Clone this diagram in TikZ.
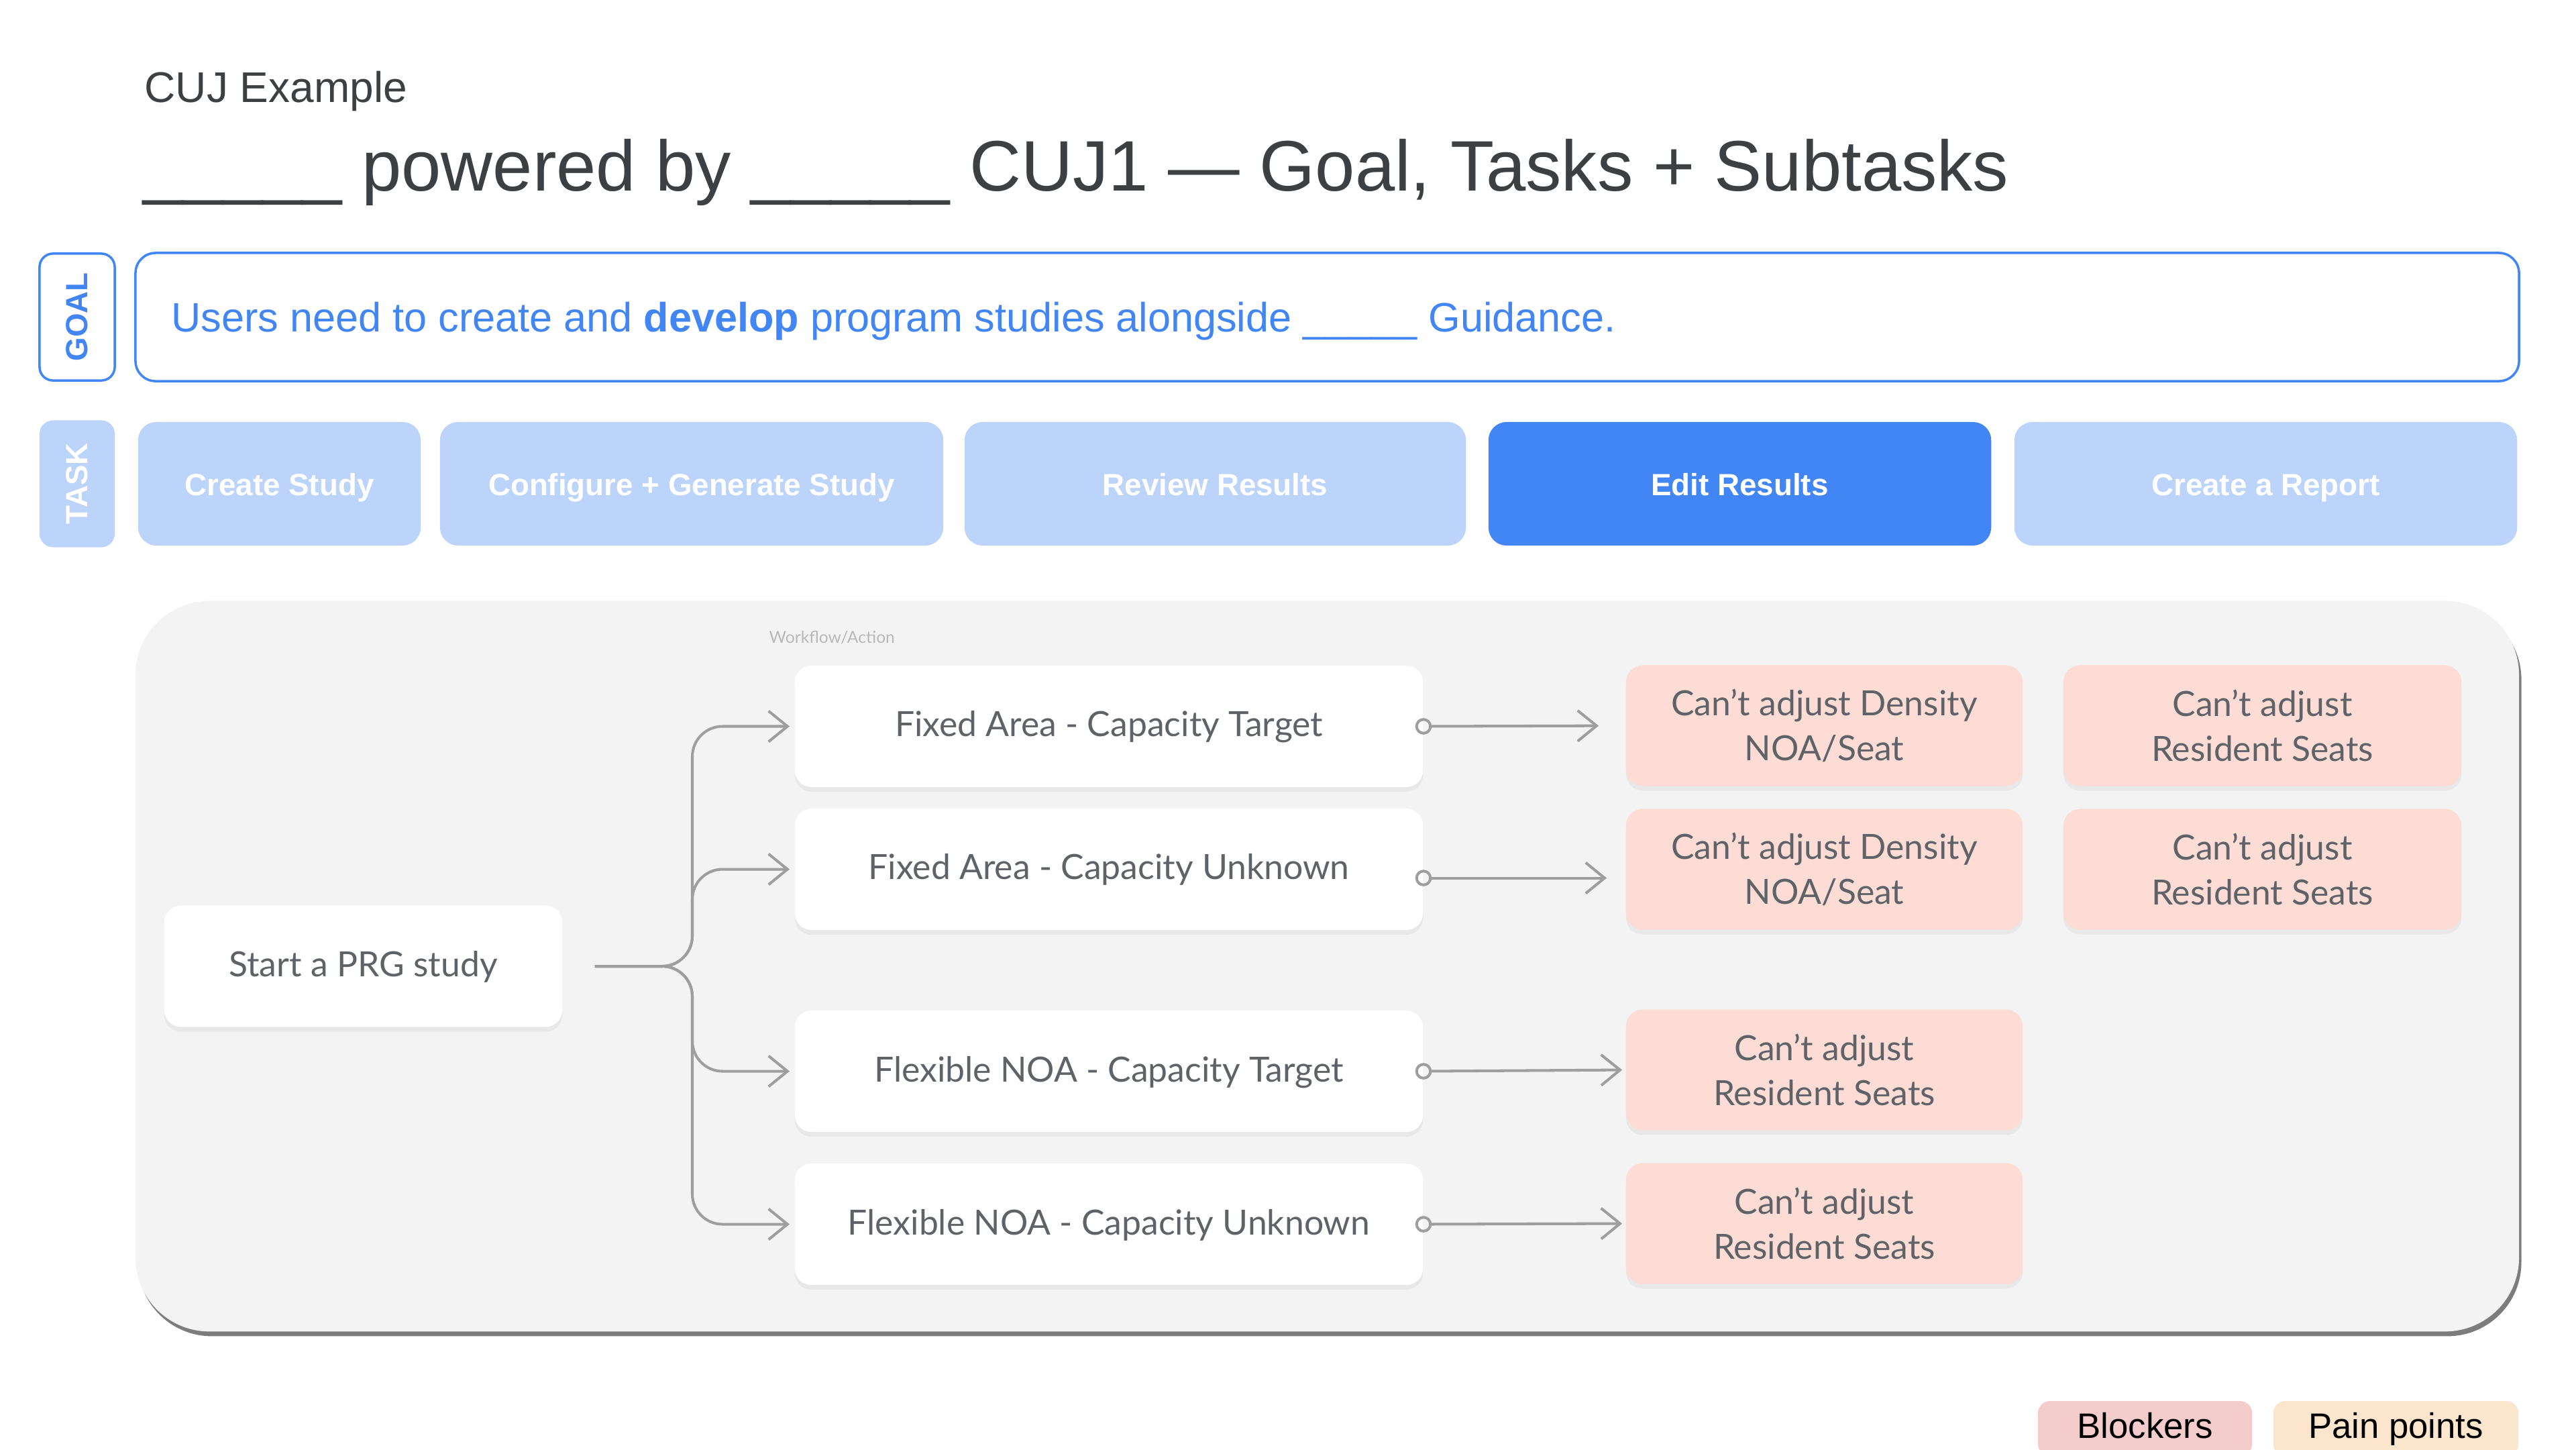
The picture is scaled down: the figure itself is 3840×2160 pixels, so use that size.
\documentclass[tikz,border=0pt]{standalone}
\usepackage{fontspec}
\setmainfont{Liberation Sans}
\newfontfamily\gsans{Lato}
\usetikzlibrary{arrows.meta,shadows}
\definecolor{gblue}{HTML}{4285F4}
\definecolor{lblue}{HTML}{BDD4FA}
\definecolor{panelbg}{HTML}{F3F3F3}
\definecolor{pinkbox}{HTML}{FCDCD5}
\definecolor{conngray}{HTML}{9E9E9E}
\definecolor{txtgray}{HTML}{5F6368}
\definecolor{titlegray}{HTML}{3C4043}
\definecolor{blockc}{HTML}{F4CCCC}
\definecolor{painc}{HTML}{FCE5CD}
\tikzset{
  sidelabel/.style={rounded corners=0.2cm, minimum width=1.89cm, minimum height=1.12cm, inner sep=0pt,
    font=\fontsize{13}{15}\selectfont\bfseries, rotate=90},
  goalside/.style={sidelabel, draw=gblue, line width=1pt, text=gblue, fill=white},
  taskside/.style={sidelabel, fill=lblue, text=white},
  taskbox/.style={rounded corners=0.27cm, minimum height=1.84cm, inner sep=0pt,
    text height=1.1em, text depth=0.1em,
    font=\fontsize{13}{15}\selectfont\bfseries, text=white, fill=lblue},
  taskact/.style={taskbox, fill=gblue},
  wbase/.style={rounded corners=0.25cm, minimum height=1.81cm, inner sep=0pt,
    font=\gsans\fontsize{14.7}{19}\selectfont, text=txtgray,
    drop shadow={shadow xshift=0pt, shadow yshift=-2pt, fill=black, opacity=0.045}},
  wnode/.style={wbase, fill=white, text height=1.0em, text depth=0.12em},
  pnode/.style={wbase, fill=pinkbox, minimum height=1.8cm, align=center},
  conn/.style={draw=conngray, line width=1.15pt, rounded corners=0.45cm,
    -{Straight Barb[length=8pt,width=13pt]}},
  conn2/.style={draw=conngray, line width=1.15pt, shorten <=-3.5pt,
    {Circle[open,length=7pt,width=7pt]}-{Straight Barb[length=8pt,width=13pt]}},
  legend/.style={rounded corners=0.18cm, minimum height=0.82cm, inner sep=0pt,
    text height=11pt, text depth=3pt, font=\fontsize{15}{18}\selectfont, text=black}
}
\begin{document}
\begin{tikzpicture}[x=0.01cm,y=-0.01cm]
\useasboundingbox (0,0) rectangle (3840,2160);
\clip (0,0) rectangle (3840,2160);
\fill[white] (0,0) rectangle (3840,2160);

% titles
\node[anchor=base west, inner sep=0pt, font=\fontsize{18.2}{22}\selectfont, text=titlegray] (sub) at (215,152) {CUJ Example};
\node[anchor=base west, inner sep=0pt, font=\fontsize{30.3}{36}\selectfont, text=titlegray] (title) at (213,284)
  {\_\_\_\_\_ powered by \_\_\_\_\_ CUJ1 — Goal, Tasks + Subtasks};

% goal row
\node[goalside] (goallab) at (115,472.5) {GOAL};
\node[draw=gblue, line width=1pt, rounded corners=0.3cm, minimum width=35.51cm, minimum height=1.91cm, fill=white] (goal) at (1978.5,472.5) {};
\node[anchor=base west, inner sep=0pt, font=\fontsize{17.4}{21}\selectfont, text=gblue] (goaltxt) at (255,494)
  {Users need to create and \textbf{develop} program studies alongside \_\_\_\_\_ Guidance.};

% task row
\node[taskside] (tasklab) at (115,721) {TASK};
\node[taskbox, minimum width=4.21cm] (t1) at (416.5,721) {Create Study};
\node[taskbox, minimum width=7.50cm] (t2) at (1031,721) {Configure + Generate Study};
\node[taskbox, minimum width=7.47cm] (t3) at (1811.5,721) {Review Results};
\node[taskact, minimum width=7.49cm] (t4) at (2593.5,721) {Edit Results};
\node[taskbox, minimum width=7.49cm] (t5) at (3377.5,721) {Create a Report};

% panel
\node[fill=panelbg, rounded corners=1.1cm, minimum width=35.51cm, minimum height=10.88cm,
  drop shadow={shadow xshift=1pt, shadow yshift=-2pt, fill=black!60, opacity=0.85}] (panel) at (1978.5,1440) {};
\node[anchor=west, inner sep=0pt, font=\gsans\fontsize{7}{8}\selectfont, text=black!28] (wf) at (1146,950) {Workflow/Action};

% white nodes
\node[wnode, minimum width=5.93cm] (start) at (541.5,1440) {Start a PRG study};
\node[wnode, minimum width=9.36cm] (w1) at (1653,1082.5) {Fixed Area - Capacity Target};
\node[wnode, minimum width=9.36cm] (w2) at (1653,1295.5) {Fixed Area - Capacity Unknown};
\node[wnode, minimum width=9.36cm] (w3) at (1653,1596.5) {Flexible NOA - Capacity Target};
\node[wnode, minimum width=9.36cm] (w4) at (1653,1824.5) {Flexible NOA - Capacity Unknown};

% pink nodes
\node[pnode, minimum width=5.91cm] (p11) at (2719.5,1081.5) {Can’t adjust Density\\NOA/Seat};
\node[pnode, minimum width=5.93cm] (p12) at (3372.5,1081.5) {Can’t adjust\\Resident Seats};
\node[pnode, minimum width=5.91cm] (p21) at (2719.5,1295.5) {Can’t adjust Density\\NOA/Seat};
\node[pnode, minimum width=5.93cm] (p22) at (3372.5,1295.5) {Can’t adjust\\Resident Seats};
\node[pnode, minimum width=5.91cm] (p3) at (2719.5,1594.5) {Can’t adjust\\Resident Seats};
\node[pnode, minimum width=5.91cm] (p4) at (2719.5,1823.5) {Can’t adjust\\Resident Seats};

% left connectors
\coordinate (bx) at (1032,1440);
\draw[conn, shorten <=0.48cm, shorten >=0.07cm] (start.east) -- (bx) |- (w1.west);
\draw[conn, shorten <=0.48cm, shorten >=0.07cm] (start.east) -- (bx) |- (w2.west);
\draw[conn, shorten <=0.48cm, shorten >=0.07cm] (start.east) -- (bx) |- (w3.west);
\draw[conn, shorten <=0.48cm, shorten >=0.07cm] (start.east) -- (bx) |- (w4.west);

% right connectors
\draw[conn2, shorten >=0.40cm] (w1.east) -- (p11.west);
\draw[conn2, shorten >=0.28cm] ([yshift=-0.13cm]w2.east) -- ([yshift=-0.13cm]p21.west);
\draw[conn2, shorten >=0.05cm] (w3.east) -- (p3.west);
\draw[conn2, shorten >=0.05cm] (w4.east) -- (p4.west);

% legend
\node[legend, fill=blockc, minimum width=3.19cm] (blk) at (3197.5,2129) {Blockers};
\node[legend, fill=painc, minimum width=3.65cm] (pain) at (3571.5,2129) {Pain points};
\end{tikzpicture}
\end{document}
